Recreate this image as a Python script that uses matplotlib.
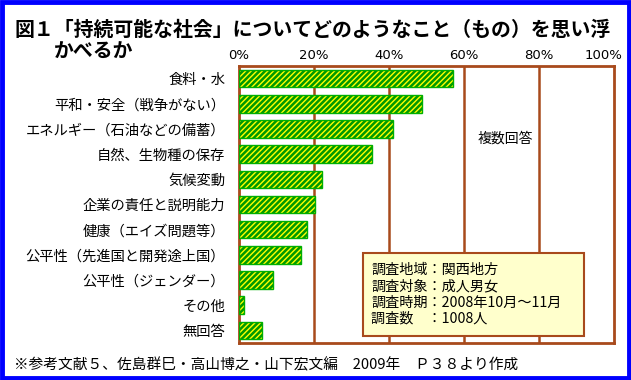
import numpy as np
import matplotlib.pyplot as plt
from matplotlib.patches import Rectangle
from matplotlib.transforms import offset_copy

plt.rcParams['font.family'] = ['Noto Sans CJK JP', 'DejaVu Sans']

# データ
categories = ["食料・水", "平和・安全（戦争がない）", "エネルギー（石油などの備蓄）",
              "自然、生物種の保存", "気候変動", "企業の責任と説明能力",
              "健康（エイズ問題等）", "公平性（先進国と開発途上国）",
              "公平性（ジェンダー）", "その他", "無回答"]
values = [57.0, 48.8, 41.0, 35.5, 22.0, 20.3, 18.0, 16.5, 9.0, 1.3, 6.0]
ticks = [0, 20, 40, 60, 80, 100]
tick_labels = ["0%", "20%", "40%", "60%", "80%", "100%"]

W, H = 631, 380
fig = plt.figure(figsize=(W / 100, H / 100), dpi=100)
fig.patch.set_facecolor("white")

# 外枠（青）
fig.patches.append(Rectangle((0.003, 0.005), 0.994, 0.99, transform=fig.transFigure,
                             fill=False, edgecolor="#0000ff", linewidth=3.5))

x0, x1 = 239, 614
y0, y1 = 66, 343
ax = fig.add_axes([x0 / W, 1 - y1 / H, (x1 - x0) / W, (y1 - y0) / H])

brown = "#a84a1c"
y = np.arange(len(categories))
ax.barh(y, values, height=0.7, color="#009900", edgecolor="#ffff00",
        hatch="//////", linewidth=0, zorder=3)
ax.barh(y, values, height=0.7, fill=False, edgecolor="#00b000",
        linewidth=1.0, zorder=4)

ax.set_xlim(0, 100)
ax.set_ylim(len(categories) - 0.5, -0.5)
ax.set_xticks(ticks)
ax.set_xticklabels(tick_labels, fontsize=9.5, family=['DejaVu Sans'])
ax.xaxis.tick_top()
ax.tick_params(axis="x", length=0, pad=3)
last = ax.get_xticklabels()[-1]
last.set_transform(offset_copy(last.get_transform(), fig=fig, x=-10, y=0, units="dots"))
ax.set_yticks(y)
ax.set_yticklabels(categories, fontsize=10.3)
ax.tick_params(axis="y", length=0, pad=10)
for t in ticks[1:-1]:
    ax.axvline(t, color=brown, linewidth=1.8, zorder=1)
for s in ax.spines.values():
    s.set_color(brown)
    s.set_linewidth(2)

ax.text(71, 2.4, "複数回答", fontsize=10, ha="center", va="center")

# 調査情報の枠
ax.add_patch(Rectangle((33.1, 6.92), 58.9, 3.29, facecolor="#ffffcc",
                       edgecolor=brown, linewidth=1.5, zorder=6))
info = "調査地域：関西地方\n調査対象：成人男女\n調査時期：2008年10月～11月\n調査数　：1008人"
ax.text(35.3, 8.58, info, fontsize=10.2, ha="left", va="center", linespacing=1.2,
        zorder=7)

fig.text(14 / W, 1 - 29 / H, "図１「持続可能な社会」についてどのようなこと（もの）を思い浮",
         fontsize=14.3, fontweight="bold", ha="left", va="center")
fig.text(54 / W, 1 - 51 / H, "かべるか", fontsize=14.3, fontweight="bold",
         ha="left", va="center")
fig.text(14 / W, 1 - 365 / H,
         "※参考文献５、佐島群巳・高山博之・山下宏文編　2009年　Ｐ３８より作成",
         fontsize=10.6, ha="left", va="center")

fig.savefig("out.png", dpi=100)
